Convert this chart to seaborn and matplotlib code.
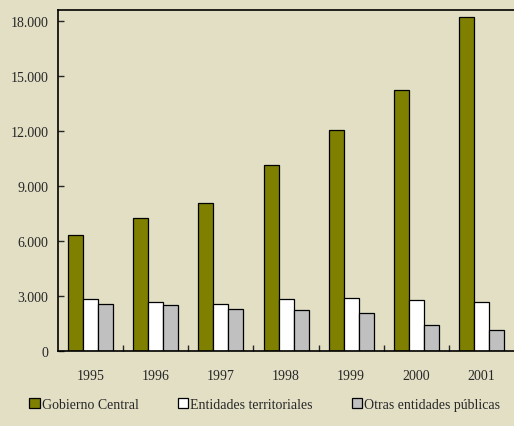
import pandas as pd
import seaborn as sns
import matplotlib.pyplot as plt
from matplotlib.ticker import FuncFormatter, FixedLocator

# datos (millones)
years = ["1995", "1996", "1997", "1998", "1999", "2000", "2001"]
gobierno_central = [6350, 7260, 8060, 10130, 12040, 14220, 18200]
entidades_territoriales = [2840, 2640, 2560, 2840, 2890, 2760, 2640]
otras_entidades = [2560, 2490, 2310, 2220, 2040, 1400, 1130]
series = ["Gobierno Central", "Entidades territoriales", "Otras entidades públicas"]
colors = ["#808000", "#FFFFFF", "#C0C0C0"]
yticks = [0, 3000, 6000, 9000, 12000, 15000, 18000]

df = pd.DataFrame({
    "year": years * 3,
    "value": gobierno_central + entidades_territoriales + otras_entidades,
    "serie": [series[0]] * 7 + [series[1]] * 7 + [series[2]] * 7,
})

bg = "#E3DFC5"
sns.set_style("white")
plt.rcParams["font.family"] = ["Liberation Serif", "DejaVu Serif"]

fig = plt.figure(figsize=(5.14, 4.27), dpi=100, facecolor=bg)
ax = fig.add_axes([0.113, 0.176, 0.887, 0.798])
ax.set_facecolor(bg)

sns.barplot(data=df, x="year", y="value", hue="serie", hue_order=series,
            palette=colors, width=0.69, edgecolor="black", linewidth=0.9,
            saturation=1, ax=ax)

ax.set_ylim(0, 18600)
ax.set_xlim(-0.5, 6.5)
ax.set_yticks(yticks)
ax.yaxis.set_major_formatter(FuncFormatter(lambda v, p: f"{int(v):,}".replace(",", ".")))
ax.xaxis.set_minor_locator(FixedLocator([i + 0.5 for i in range(6)]))
ax.tick_params(axis="x", which="major", length=0, labelsize=10, pad=13)
ax.tick_params(axis="x", which="minor", direction="in", length=4, width=1, bottom=True)
ax.tick_params(axis="y", direction="in", length=4, width=1, labelsize=10, left=True, pad=7)
ax.set_xlabel("")
ax.set_ylabel("")
for s in ["left", "bottom", "top"]:
    ax.spines[s].set_color("black")
    ax.spines[s].set_linewidth(1.2)
ax.spines["right"].set_visible(False)

ax.legend_.remove()
handles = [plt.Rectangle((0, 0), 1, 1, facecolor=c, edgecolor="black", linewidth=0.9) for c in colors]
fig.legend(handles, series, loc="center", bbox_to_anchor=(0.515, 0.05), ncol=3,
           frameon=False, fontsize=10, handlelength=0.75, handleheight=0.75,
           handletextpad=0.15, columnspacing=2.8)

fig.savefig("out.png", dpi=100, facecolor=bg)
